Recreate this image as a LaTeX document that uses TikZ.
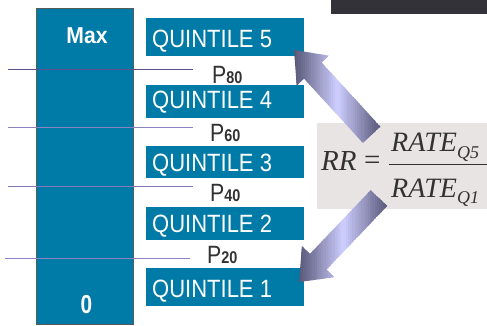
\documentclass[tikz,border=0pt]{standalone}
\usepackage{fontspec}
\setmainfont{Liberation Sans}
\newfontfamily\tms{Liberation Serif}
\definecolor{qblue}{RGB}{0,122,166}
\definecolor{lineA}{RGB}{90,80,140}
\definecolor{lineB}{RGB}{140,130,195}
\definecolor{txtgray}{RGB}{50,50,50}
\definecolor{boxgray}{RGB}{232,228,228}
\definecolor{darkbar}{RGB}{50,50,56}
\definecolor{arrdark}{RGB}{88,88,120}
\definecolor{arrlight}{RGB}{205,205,255}
\newcommand{\gradstrips}[2]{% #1 = left x, #2 = width
  \foreach \i in {0,...,39}{
    \pgfmathtruncatemacro{\p}{abs(\i-19.5)/19.5*100}
    \fill[arrdark!\p!arrlight] ({#1+\i*#2/40},30) rectangle ({#1+(\i+1)*#2/40+0.6},300);
  }}
\begin{document}
\begin{tikzpicture}[x=1pt,y=-1pt,
  qbox/.style={fill=qblue, minimum width=158pt, inner sep=0pt, anchor=north west},
  qtext/.style={text=white, inner sep=0pt, anchor=base west, font=\fontsize{25}{25}\selectfont},
  coltext/.style={text=white, inner sep=0pt, anchor=base, font=\bfseries\fontsize{23}{23}\selectfont},
  plabel/.style={text=txtgray, inner sep=0pt, anchor=base west, font=\fontsize{25}{25}\selectfont},
  cutline/.style={line width=0.9pt},
  ftext/.style={text=txtgray, inner sep=0pt, anchor=base west, font=\tms\itshape\fontsize{28}{28}\selectfont},
  fsub/.style={text=txtgray, inner sep=0pt, anchor=base west, font=\tms\itshape\fontsize{18}{18}\selectfont}
]
\useasboundingbox (0,0) rectangle (487,325);
% top dark bar
\fill[darkbar] (331,0) rectangle (487,14);
% column
\node[draw=black!65, fill=qblue, line width=1pt, minimum width=97pt, minimum height=316pt, inner sep=0pt] (col) at (84.5,166) {};
\node[coltext] (max) at (87,43) {\scalebox{0.92}[1]{Max}};
\node[coltext, font=\bfseries\fontsize{26}{26}\selectfont] (zero) at (86.5,313) {\scalebox{0.8}[1]{0}};
% percentile lines
\coordinate (l80a) at (8,69);   \coordinate (l80b) at (193,69);
\coordinate (l60a) at (8,127);  \coordinate (l60b) at (193,127);
\coordinate (l40a) at (8,186);  \coordinate (l40b) at (193,186);
\coordinate (l20a) at (5,258);  \coordinate (l20b) at (190,258);
\draw[cutline, lineA] (l80a) -- (l80b);
\draw[cutline, lineB] (l60a) -- (l60b);
\draw[cutline, lineB!80!lineA] (l40a) -- (l40b);
\draw[cutline, lineB] (l20a) -- (l20b);
% quintile boxes
\node[qbox, minimum height=38pt] (q5) at (146,18) {};
\node[qbox, minimum height=33pt] (q4) at (146,85) {};
\node[qbox, minimum height=32pt] (q3) at (146,146) {};
\node[qbox, minimum height=33pt] (q2) at (146,207) {};
\node[qbox, minimum height=38pt] (q1) at (146,268) {};
\node[qtext] (t5) at (152,47) {\scalebox{0.88}[1]{QUINTILE 5}};
\node[qtext] (t4) at (152,108) {\scalebox{0.88}[1]{QUINTILE 4}};
\node[qtext] (t3) at (152,171) {\scalebox{0.88}[1]{QUINTILE 3}};
\node[qtext] (t2) at (152,232) {\scalebox{0.88}[1]{QUINTILE 2}};
\node[qtext] (t1) at (152,297) {\scalebox{0.88}[1]{QUINTILE 1}};
% percentile labels
\node[plabel] (p80) at (212,83) {\scalebox{0.85}[1]{P{\bfseries\fontsize{17}{17}\selectfont 80}}};
\node[plabel] (p60) at (210,141) {\scalebox{0.85}[1]{P{\bfseries\fontsize{17}{17}\selectfont 60}}};
\node[plabel] (p40) at (210,201) {\scalebox{0.85}[1]{P{\bfseries\fontsize{17}{17}\selectfont 40}}};
\node[plabel] (p20) at (207,263) {\scalebox{0.85}[1]{P{\bfseries\fontsize{17}{17}\selectfont 20}}};
% formula box
\node[fill=boxgray, minimum width=170pt, minimum height=86pt, anchor=north west, inner sep=0pt] (fbox) at (317,123) {};
\node[ftext, font=\tms\itshape\fontsize{29}{29}\selectfont] (rr) at (321,170) {RR};
\node[ftext, font=\tms\fontsize{29}{29}\selectfont] (eq) at (364,169) {=};
\node[ftext] (num) at (391,151) {RATE};
\node[fsub] (nsub) at (457,158) {Q5};
\node[ftext] (den) at (391,197) {RATE};
\node[fsub] (dsub) at (457,203) {Q1};
\coordinate (fl1) at (389,164.5);
\coordinate (fl2) at (487,164.5);
\draw[line width=1.6pt, txtgray] (fl1) -- (fl2);
% fat arrows (horizontal gradient, dark - light - dark)
\begin{scope}
  \clip (294,50) -- (329.1,55.7) -- (321.7,62.5) -- (380.5,126.7) -- (362.9,142.9) -- (304.1,78.7) -- (296.7,85.5) -- cycle;
  \gradstrips{294}{87}
\end{scope}
\begin{scope}
  \clip (299,282) -- (334.6,277.2) -- (326.6,269.6) -- (387.3,205.9) -- (370.7,190.1) -- (310.0,253.8) -- (302.0,246.2) -- cycle;
  \gradstrips{299}{89}
\end{scope}
\end{tikzpicture}
\end{document}
